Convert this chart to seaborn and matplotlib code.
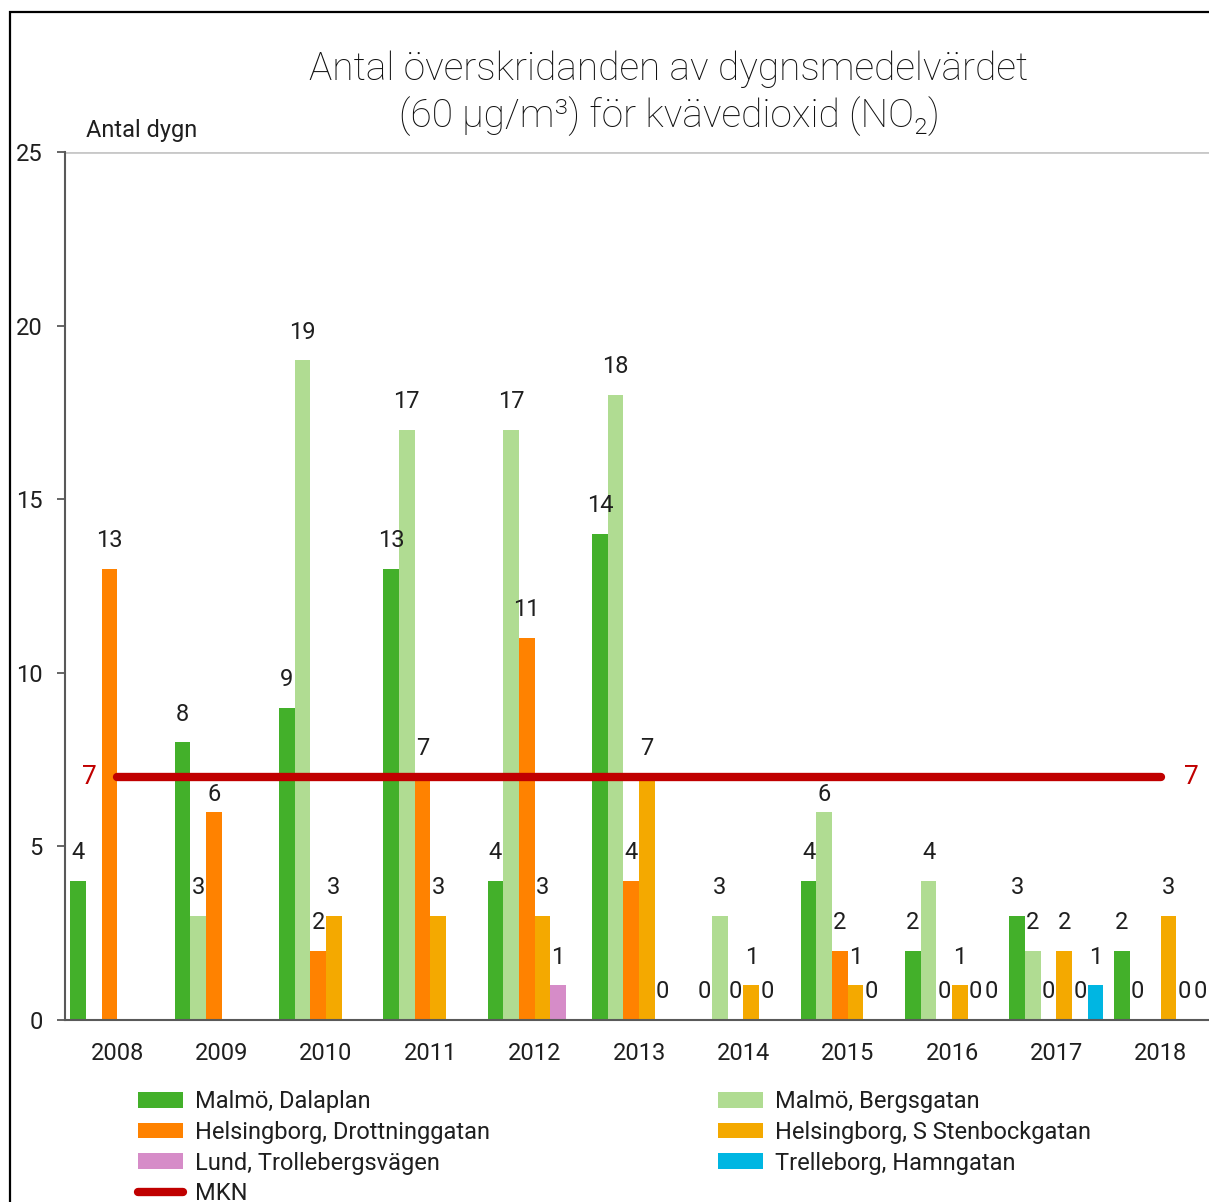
import numpy as np
import pandas as pd
import seaborn as sns
import matplotlib.pyplot as plt
from matplotlib import font_manager
from matplotlib.patches import Patch, Rectangle
from matplotlib.lines import Line2D

# Data
years = ["2008", "2009", "2010", "2011", "2012", "2013", "2014", "2015", "2016", "2017", "2018"]
stations = ["Malmö, Dalaplan", "Malmö, Bergsgatan", "Helsingborg, Drottninggatan",
            "Helsingborg, S Stenbockgatan", "Lund, Trollebergsvägen", "Trelleborg, Hamngatan"]
nan = np.nan
dalaplan = [4, 8, 9, 13, 4, 14, 0, 4, 2, 3, 2]
bergsgatan = [nan, 3, 19, 17, 17, 18, 3, 6, 4, 2, 0]
drottninggatan = [13, 6, 2, 7, 11, 4, 0, 2, 0, 0, nan]
stenbockgatan = [nan, nan, 3, 3, 3, 7, 1, 1, 1, 2, 3]
trollebergsvagen = [nan, nan, nan, nan, 1, 0, 0, 0, 0, 0, 0]
hamngatan = [nan, nan, nan, nan, nan, nan, nan, nan, 0, 1, 0]
mkn = [7] * len(years)

colors = ["#43B02A", "#B0DC92", "#FF8200", "#F4A900", "#D68CC8", "#00B6E2"]
mkn_color = "#C00000"

series = [dalaplan, bergsgatan, drottninggatan, stenbockgatan, trollebergsvagen, hamngatan]
df = pd.DataFrame({
    "year": np.tile(years, len(stations)),
    "station": np.repeat(stations, len(years)),
    "value": np.concatenate(series),
})

sns.set_style("white")
available = {f.name for f in font_manager.fontManager.ttflist}
main_font = "Liberation Sans Narrow" if "Liberation Sans Narrow" in available else "Roboto"
plt.rcParams["font.family"] = [main_font, "DejaVu Sans"]
text_color = "#1f1f1f"

W, H = 1209, 1202
fig = plt.figure(figsize=(W / 100, H / 100), dpi=100)
ax = fig.add_axes([65 / W, 1 - 1020 / H, 1148 / W, 868 / H])

sns.barplot(data=df, x="year", y="value", hue="station", order=years, hue_order=stations,
            palette=colors, width=0.9, saturation=1, errorbar=None, linewidth=0,
            legend=False, ax=ax)

# labels just under the MKN line are pulled down so they stay readable
for cont in ax.containers:
    for b in cont:
        h = b.get_height()
        pad = 4 if mkn[0] - 1.5 < h < mkn[0] else 12
        ax.annotate(f"{h:g}", (b.get_x() + b.get_width() / 2, h), xytext=(0, pad),
                    textcoords="offset points", ha="center", va="bottom",
                    fontsize=17, color=text_color, zorder=6)

x = np.arange(len(years))
ax.plot(x, mkn, color=mkn_color, lw=6, solid_capstyle="round", zorder=5)
ax.annotate(f"{mkn[0]}", (x[0], mkn[0]), xytext=(-20, 0), textcoords="offset points",
            ha="center", va="center", color=mkn_color, fontsize=19)
ax.annotate(f"{mkn[-1]}", (x[-1], mkn[-1]), xytext=(22, 0), textcoords="offset points",
            ha="center", va="center", color=mkn_color, fontsize=19)

ax.set_xlim(-0.5, len(years) - 0.5)
ax.set_ylim(0, 25)
ax.set_yticks(range(0, 26, 5))
ax.axhline(25, color="#C8C8C8", lw=2, zorder=0)
ax.set_xlabel("")
ax.set_ylabel("")

for side in ["top", "right"]:
    ax.spines[side].set_visible(False)
for side in ["left", "bottom"]:
    ax.spines[side].set_color("#595959")
    ax.spines[side].set_linewidth(1.5)

ax.set_xticks(x)
ax.set_xticklabels(years)
ax.set_xticks(np.arange(-0.5, len(years), 1), minor=True)
ax.tick_params(axis="x", which="major", length=0, pad=16, labelsize=17, labelcolor=text_color)
ax.tick_params(axis="x", which="minor", length=6, width=1.3, color="#595959", direction="out")
ax.tick_params(axis="y", length=6, width=1.3, color="#595959", direction="out",
               pad=10, labelsize=17, labelcolor=text_color, left=True)

fig.text(86 / W, 1 - 137 / H, "Antal dygn", fontsize=17, color=text_color, va="baseline")
fig.text(669 / W, 1 - 80 / H, "Antal överskridanden av dygnsmedelvärdet",
         fontsize=28, fontweight="light", color="#111111", ha="center", va="baseline")
fig.text(669 / W, 1 - 127 / H, "(60 µg/m³) för kvävedioxid (NO₂)",
         fontsize=28, fontweight="light", color="#111111", ha="center", va="baseline")

# legend in two column blocks
handles = [Patch(facecolor=c, edgecolor="none") for c in colors]
mkn_handle = Line2D([0], [0], color=mkn_color, lw=6, solid_capstyle="round")
leg_kw = dict(frameon=False, fontsize=17, handlelength=1.9, handleheight=0.65,
              handletextpad=0.5, labelspacing=0.33, borderpad=0, borderaxespad=0,
              loc="upper left", labelcolor=text_color)
leg1 = fig.legend([handles[0], handles[2], handles[4], mkn_handle],
                  [stations[0], stations[2], stations[4], "MKN"],
                  bbox_to_anchor=(138 / W, 1 - 1090 / H), **leg_kw)
leg2 = fig.legend([handles[1], handles[3], handles[5]],
                  [stations[1], stations[3], stations[5]],
                  bbox_to_anchor=(718 / W, 1 - 1090 / H), **leg_kw)

fig.patches.append(Rectangle((10 / W, -0.05), 1.2, 1 - 12 / H + 0.05, transform=fig.transFigure,
                             fill=False, edgecolor="black", lw=1.6, clip_on=False))

fig.savefig("out.png", dpi=100)
